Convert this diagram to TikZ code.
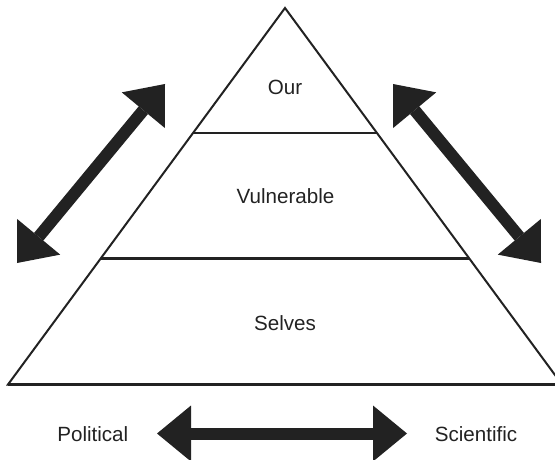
\documentclass[tikz,border=0pt]{standalone}
\usepackage{fontspec}
\setmainfont{Liberation Sans}
\usetikzlibrary{arrows.meta,calc}
\definecolor{ink}{RGB}{34,34,34}
\begin{document}
\begin{tikzpicture}[x=1pt,y=-1pt,
  label text/.style={font=\fontsize{20.6}{24}\selectfont, text=ink, anchor=base, inner sep=0pt},
  side/.style={draw=ink, line width=2pt, line join=miter},
  tier/.style={draw=ink, line width=2.6pt},
  twoway/.style={draw=ink, line width=12pt,
    {Triangle[length=34pt,width=56pt,line width=0pt]}-{Triangle[length=34pt,width=56pt,line width=0pt]}}]
  \useasboundingbox (0,0) rectangle (555,460);
  \begin{scope}
    \clip (0,0) rectangle (555,460);
    % pyramid outline
    \coordinate (apex) at (285,8);
    \coordinate (baseL) at (8,384.5);
    \coordinate (baseR) at (562,384.5);
    \draw[side] (apex) -- (baseL) -- (baseR) -- cycle;
    % tier dividers
    \coordinate (t1L) at ($(apex)!0.332!(baseL)$);
    \coordinate (t1R) at ($(apex)!0.332!(baseR)$);
    \coordinate (t2L) at ($(apex)!0.666!(baseL)$);
    \coordinate (t2R) at ($(apex)!0.666!(baseR)$);
    \draw[tier] (t1L) -- (t1R);
    \draw[tier] (t2L) -- (t2R);
    \draw[tier] (baseL) -- (baseR);
  \end{scope}
  % tier labels
  \node[label text] (our) at (285,95) {Our};
  \node[label text] (vuln) at (285.5,204) {Vulnerable};
  \node[label text] (selves) at (285,330) {Selves};
  % axis labels
  \node[label text] (political) at (92.8,441) {Political};
  \node[label text] (scientific) at (476,441) {Scientific};
  % double arrows
  \coordinate (la) at (17,263);
  \coordinate (lb) at (165,84);
  \coordinate (ra) at (393,84);
  \coordinate (rb) at (541,263);
  \coordinate (ba) at (157,433.5);
  \coordinate (bb) at (407,433.5);
  \draw[twoway] (la) -- (lb);
  \draw[twoway] (ra) -- (rb);
  \draw[twoway] (ba) -- (bb);
\end{tikzpicture}
\end{document}
